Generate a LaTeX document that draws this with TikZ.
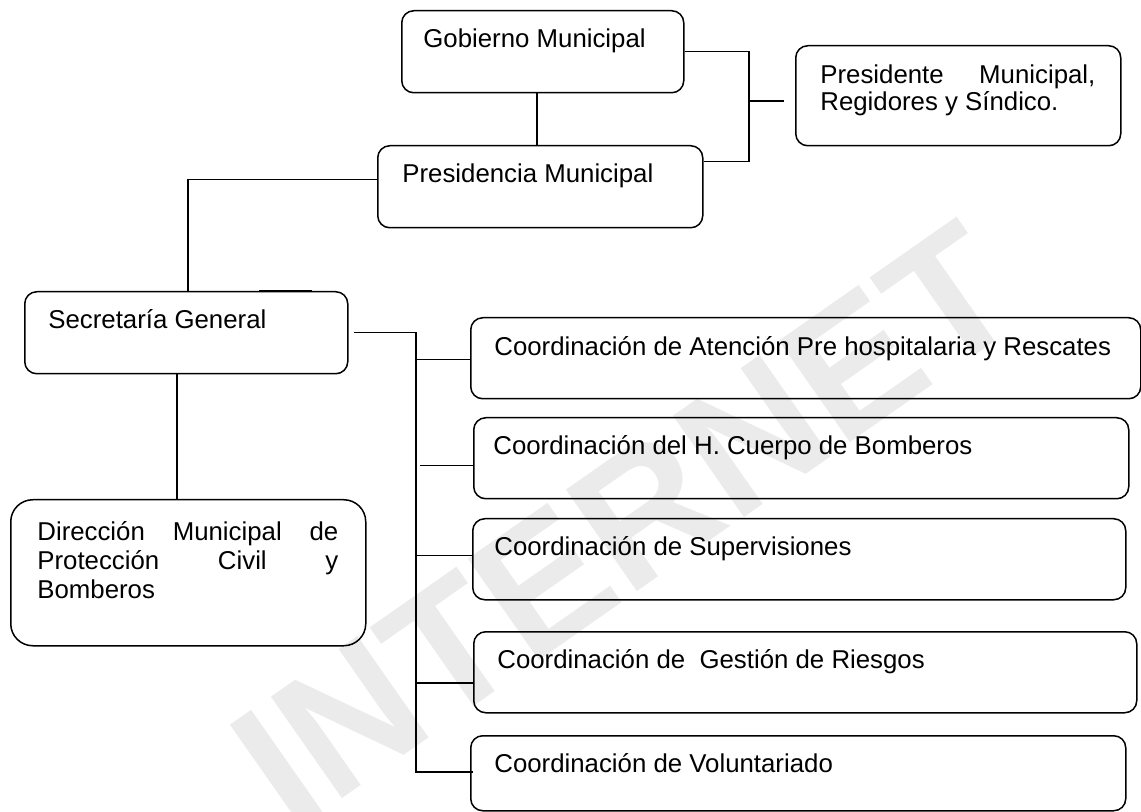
\documentclass[tikz,border=0pt]{standalone}
\usepackage{fontspec}
\setmainfont{Liberation Sans}
\begin{document}
\begin{tikzpicture}[x=0.5pt,y=-0.5pt]
\tikzset{
  box/.style={draw=black, line width=0.75pt, rounded corners=6pt, anchor=north west, inner sep=0pt},
  txt/.style={font=\fontsize{12.9}{15}\selectfont, anchor=base west, inner sep=0pt, text=black},
  conn/.style={draw=black, line width=0.75pt},
  wm/.style={font=\fontsize{90}{90}\selectfont\bfseries, text=black!8, rotate=35, inner sep=0pt}
}
\fill[white] (0,0) rectangle (1141,812);
\useasboundingbox (0,0) rectangle (1141,812);
% watermark
\node[wm] (wmk) at (625,525) {INTERNET};
% boxes
\node[box, minimum width=141pt, minimum height=41pt] (gob) at (401,10) {};
\node[box, minimum width=162.5pt, minimum height=41pt] (pres) at (377,145) {};
\node[box, minimum width=162.5pt, minimum height=50pt] (presi) at (795,45) {};
\node[box, minimum width=161.5pt, minimum height=41pt] (sec) at (24,291) {};
\node[box, minimum width=177.5pt, minimum height=73pt, rounded corners=11pt] (dir) at (10,499) {};
\node[box, minimum width=335pt, minimum height=40.5pt] (c1) at (470,317) {};
\node[box, minimum width=327.5pt, minimum height=40.5pt] (c2) at (473,417) {};
\node[box, minimum width=326.5pt, minimum height=40.5pt] (c3) at (472,518) {};
\node[box, minimum width=331.5pt, minimum height=40.5pt] (c4) at (473,631) {};
\node[box, minimum width=327.5pt, minimum height=37.5pt] (c5) at (470,735) {};
% texts
\node[txt] (gobt) at (423,48) {Gobierno Municipal};
\node[txt] (prest) at (402,183) {Presidencia Municipal};
\node[txt, font=\fontsize{12.9}{11.5}\selectfont] (presit) at (820,84) {\parbox[t]{137.5pt}{Presidente\hfill Municipal,\\ Regidores y Síndico.}};
\node[txt] (sect) at (48,329) {Secretaría General};
\node[txt, font=\fontsize{12.9}{14.5}\selectfont] (dirt) at (37,540) {\parbox[t]{150.5pt}{Dirección\hfill Municipal\hfill de\\ Protección\hfill Civil\hfill y\\ Bomberos}};
\node[txt] (c1t) at (494,356) {Coordinación de Atención Pre hospitalaria y Rescates};
\node[txt] (c2t) at (493,455) {Coordinación del H. Cuerpo de Bomberos};
\node[txt] (c3t) at (494,555) {Coordinación de Supervisiones};
\node[txt] (c4t) at (497,668) {Coordinación de~ Gestión de Riesgos};
\node[txt] (c5t) at (494,772) {Coordinación de Voluntariado};
% connectors top
\draw[conn] ([xshift=-3pt]gob.south) -- ([xshift=-3pt]gob.south |- pres.north);
\coordinate (rb) at (749,0);
\draw[conn] (gob.east) -- (gob.east -| rb) -- ([yshift=12.5pt]pres.east -| rb) -- ([yshift=12.5pt]pres.east);
\coordinate (pj) at (784,101);
\draw[conn] (pj -| rb) -- (pj);
% presidencia to secretaria
\coordinate (sl) at (188,0);
\draw[conn] ([yshift=3.5pt]pres.west) -- ([yshift=3.5pt]pres.west -| sl) -- (sl |- sec.north);
\draw[line width=1.1pt] ([xshift=117.5pt]sec.north west) -- ([xshift=144pt]sec.north west);
% secretaria to direccion
\draw[conn] ([xshift=-4.75pt]sec.south) -- ([xshift=-4.75pt]sec.south |- dir.north);
% secretaria to coordinaciones
\coordinate (tr) at (416,330);
\draw[conn] ([xshift=2.5pt]sec.east) -- (sec.east -| tr) -- ([yshift=0.75pt]c5.west -| tr) -- ([xshift=1.5pt,yshift=0.75pt]c5.west);
\draw[conn] ([yshift=-0.75pt]c1.west -| tr) -- ([yshift=-0.75pt]c1.west);
\draw[conn] ([xshift=2pt,yshift=-3.75pt]c2.west -| tr) -- ([yshift=-3.75pt]c2.west);
\draw[conn] ([yshift=1.75pt]c3.west -| tr) -- ([yshift=1.75pt]c3.west);
\draw[conn] ([yshift=-5.25pt]c4.west -| tr) -- ([yshift=-5.25pt]c4.west);
\end{tikzpicture}
\end{document}
